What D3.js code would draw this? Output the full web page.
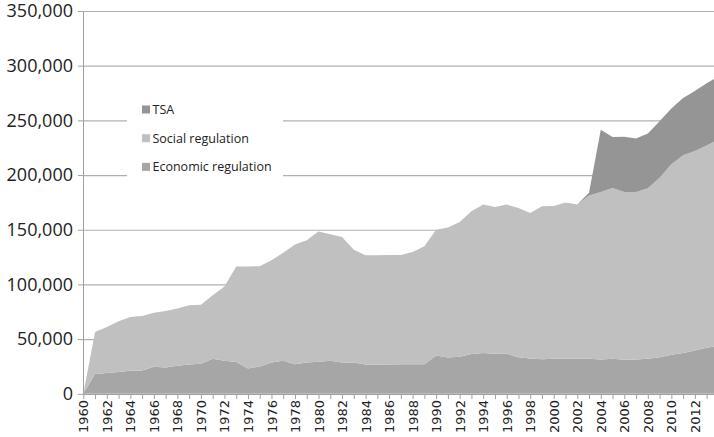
<!DOCTYPE html>
<html>
<head>
<meta charset="utf-8">
<script src="https://cdn.jsdelivr.net/npm/d3@7"></script>
<style>
  body { margin: 0; background: #fff; }
  svg { display: block; }
</style>
</head>
<body>
<div id="chart"></div>
<script>
// data
var years = d3.range(1960, 2015);
var economic = [0, 18000, 19000, 20000, 21000, 21300, 24700, 24000, 25600, 26800,
  27400, 32000, 30200, 29000, 23200, 25000, 28600, 30200, 27100, 28600,
  29200, 30200, 28600, 28600, 26800, 26800, 26800, 27100, 27100, 27100,
  35000, 33200, 33800, 36300, 37200, 36600, 36600, 33500, 32300, 31700,
  32000, 32300, 32300, 32000, 31400, 32000, 31100, 31400, 32000, 33500,
  35600, 37200, 39600, 42000, 44000];
var social = [0, 38500, 42000, 46300, 49200, 49800, 49500, 51700, 52300, 54100,
  54100, 58000, 67800, 87500, 93300, 91600, 93400, 98800, 109500, 111700,
  119300, 115600, 114700, 103200, 99800, 99800, 100000, 99700, 102500, 107700,
  115000, 118800, 123200, 130700, 135800, 134100, 136400, 136300, 133000, 139700,
  139600, 142500, 140700, 149400, 153000, 156100, 153400, 153100, 156000, 164100,
  174200, 180800, 182400, 185000, 188500];
var tsa = [0, 0, 0, 0, 0, 0, 0, 0, 0, 0,
  0, 0, 0, 0, 0, 0, 0, 0, 0, 0,
  0, 0, 0, 0, 0, 0, 0, 0, 0, 0,
  0, 0, 0, 0, 0, 0, 0, 0, 0, 0,
  0, 0, 0, 2500, 57000, 46600, 50500, 49000, 50000, 51700,
  51000, 52400, 54800, 57000, 57500];
var yTicks = [0, 50000, 100000, 150000, 200000, 250000, 300000, 350000];
var seriesKeys = ["Economic regulation", "Social regulation", "TSA"];
var seriesColors = ["#a6a6a6", "#c0c0c0", "#959595"];

var width = 714, height = 437;
var svg = d3.select("#chart").append("svg").attr("width", width).attr("height", height);

var x = d3.scaleLinear().domain([1960, 2014]).range([83.3, 718.4]);
var y = d3.scaleLinear().domain([0, 350000]).range([393.8, 11]);

var rows = years.map(function(yr, i) {
  return { year: yr, "Economic regulation": economic[i], "Social regulation": social[i], "TSA": tsa[i] };
});
var stacked = d3.stack().keys(seriesKeys)(rows);

// gridlines
svg.append("g").selectAll("line").data(yTicks.slice(1)).enter().append("line")
  .attr("x1", x(1960)).attr("x2", width)
  .attr("y1", function(d) { return y(d) + 0.5; }).attr("y2", function(d) { return y(d) + 0.5; })
  .attr("stroke", "#b0b0b0").attr("stroke-width", 1.2);

// areas
var area = d3.area()
  .x(function(d) { return x(d.data.year); })
  .y0(function(d) { return y(d[0]); })
  .y1(function(d) { return y(d[1]); });
svg.append("g").selectAll("path").data(stacked).enter().append("path")
  .attr("d", area)
  .attr("fill", function(d, i) { return seriesColors[i]; });

// y axis
var yAxis = svg.append("g").attr("transform", "translate(" + Math.round(x(1960)) + ",0)")
  .call(d3.axisLeft(y).tickValues(yTicks).tickFormat(d3.format(",")).tickSize(5).tickSizeOuter(0).tickPadding(5));
yAxis.select(".domain").attr("stroke", "#a0a0a0");
yAxis.selectAll(".tick line").attr("stroke", "#a0a0a0");
yAxis.selectAll("text").attr("font-family", "Open Sans").attr("font-size", 18).attr("fill", "#222");

// x axis
var xAxis = svg.append("g").attr("transform", "translate(0," + Math.round(y(0)) + ")")
  .call(d3.axisBottom(x).tickValues(d3.range(1960, 2014))
    .tickFormat(function(d) { return d % 2 === 0 ? d : ""; })
    .tickSize(5).tickSizeOuter(0));
xAxis.select(".domain").attr("stroke", "#a0a0a0");
xAxis.selectAll(".tick line").attr("stroke", "#a0a0a0");
xAxis.selectAll("text")
  .attr("font-family", "DejaVu Sans").attr("font-size", 13).attr("fill", "#222")
  .attr("text-anchor", "end")
  .attr("transform", "rotate(-90)")
  .attr("x", -6).attr("y", 0).attr("dy", "0.35em");

// legend
var legend = svg.append("g");
legend.append("rect").attr("x", 127).attr("y", 92).attr("width", 156).attr("height", 92).attr("fill", "#fff");
var legendItems = seriesKeys.slice().reverse();
var legendColors = seriesColors.slice().reverse();
legendItems.forEach(function(k, i) {
  var cy = 109.5 + i * 28.7;
  legend.append("rect").attr("x", 142).attr("y", cy - 4).attr("width", 8).attr("height", 8)
    .attr("fill", legendColors[i]);
  legend.append("text").attr("x", 152.5).attr("y", cy).attr("dy", "0.35em")
    .attr("font-family", "Open Sans").attr("font-size", 12.5).attr("fill", "#222")
    .text(k);
});
</script>
</body>
</html>
